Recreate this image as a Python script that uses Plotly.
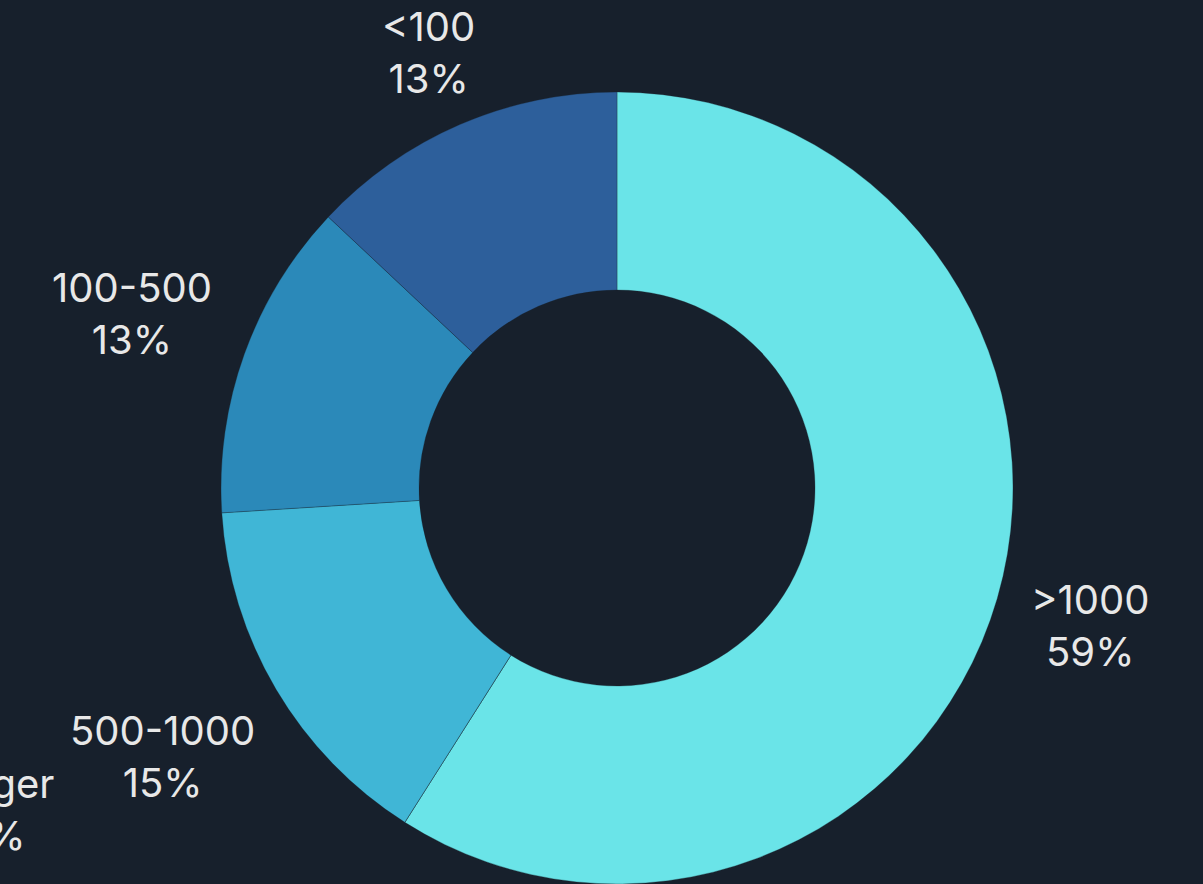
import math
import plotly.graph_objects as go

labels = [">1000", "Larger", "500-1000", "100-500", "<100"]
values = [59.0, 0.0, 15.0, 13.0, 13.0]
colors = ["#6ae4e8", "#3fa9cf", "#40b6d6", "#2b89b9", "#2d5f9b"]

# label placement (pixels from pie centre, angle offsets in degrees)
label_radius = [493, 702, 528, 516, 475]
label_angle_shift = [0, 30.3, 0, 0, 0]

W, H = 1203, 884
cx, cy, r = 617, 488, 396
BG = "#17202c"

fig = go.Figure(go.Pie(
    labels=labels,
    values=values,
    hole=0.5,
    sort=False,
    direction="clockwise",
    rotation=0,
    marker=dict(colors=colors, line=dict(color="rgba(23,32,44,0.5)", width=0.6)),
    textinfo="none",
    hoverinfo="label+percent",
    domain=dict(x=[(cx - r) / W, (cx + r) / W], y=[(H - cy - r) / H, (H - cy + r) / H]),
    showlegend=False,
))

total = sum(values)
cum = 0.0
annotations = []
for lab, v, rad, shift in zip(labels, values, label_radius, label_angle_shift):
    mid = (cum + v / 2) / total * 360 + shift
    cum += v
    a = math.radians(mid)
    px = cx + rad * math.sin(a)
    py = cy - rad * math.cos(a)
    pct = round(v / total * 100)
    annotations.append(dict(
        x=px / W, y=1 - py / H, xref="paper", yref="paper",
        text=f"{lab}<br>{pct}%", showarrow=False,
        xanchor="center", yanchor="middle", align="center",
        font=dict(family="Inter", size=40, color="#e8e8e8"),
    ))

fig.update_layout(
    width=W, height=H,
    margin=dict(l=0, r=0, t=0, b=0),
    paper_bgcolor=BG,
    plot_bgcolor=BG,
    annotations=annotations,
)

fig.write_html("out.html")
